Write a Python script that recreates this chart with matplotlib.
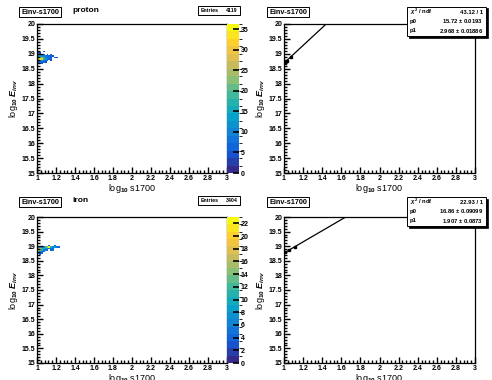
import matplotlib
matplotlib.use("Agg")
import matplotlib.pyplot as plt
import numpy as np
from matplotlib.colors import LinearSegmentedColormap, BoundaryNorm
from matplotlib.patches import Rectangle
from matplotlib.ticker import MultipleLocator

plt.rcParams['font.family'] = ['Liberation Sans', 'DejaVu Sans']
plt.rcParams['font.weight'] = 'bold'
plt.rcParams['mathtext.fontset'] = 'custom'
plt.rcParams['mathtext.rm'] = 'Liberation Sans:bold'
plt.rcParams['mathtext.it'] = 'Liberation Sans:bold:italic'
plt.rcParams['mathtext.bf'] = 'Liberation Sans:bold'

W, H = 492, 380

# ---- data ----
x_edges_range = (1.0, 3.0)
y_edges_range = (15.0, 20.0)
n_bins = 100

proton_x = [1.07,
            1.01, 1.03,
            1.01, 1.03, 1.05, 1.07, 1.11, 1.15,
            1.01, 1.03, 1.05, 1.07, 1.09, 1.11, 1.13, 1.15, 1.17,
            1.01, 1.03, 1.05, 1.07, 1.09, 1.11, 1.13, 1.15, 1.19, 1.21,
            1.01, 1.03, 1.05, 1.07, 1.09, 1.11, 1.13, 1.15,
            1.01, 1.03, 1.05, 1.07, 1.09, 1.11, 1.15,
            1.01, 1.03, 1.05, 1.07, 1.09,
            1.03, 1.05]
proton_y = [19.075,
            19.025, 19.025,
            18.975, 18.975, 18.975, 18.975, 18.975, 18.975,
            18.925, 18.925, 18.925, 18.925, 18.925, 18.925, 18.925, 18.925, 18.925,
            18.875, 18.875, 18.875, 18.875, 18.875, 18.875, 18.875, 18.875, 18.875, 18.875,
            18.825, 18.825, 18.825, 18.825, 18.825, 18.825, 18.825, 18.825,
            18.775, 18.775, 18.775, 18.775, 18.775, 18.775, 18.775,
            18.725, 18.725, 18.725, 18.725, 18.725,
            18.675, 18.675]
proton_n = [5,
            6, 5,
            9, 8, 7, 6, 5, 6,
            12, 15, 12, 10, 9, 8, 7, 6, 5,
            20, 28, 22, 15, 10, 9, 8, 6, 6, 5,
            25, 36, 30, 18, 12, 8, 7, 6,
            15, 20, 12, 9, 7, 6, 5,
            9, 8, 7, 6, 5,
            6, 5]

iron_x = [1.13, 1.19,
          1.01, 1.03, 1.05, 1.07, 1.09, 1.11, 1.13, 1.15, 1.17, 1.19, 1.21, 1.23,
          1.01, 1.03, 1.05, 1.07, 1.09, 1.11, 1.13, 1.15, 1.17,
          1.01, 1.03, 1.05, 1.07, 1.09, 1.11, 1.15, 1.17,
          1.01, 1.03, 1.05, 1.07,
          1.01, 1.03, 1.05,
          1.03]
iron_y = [19.025, 19.025,
          18.975, 18.975, 18.975, 18.975, 18.975, 18.975, 18.975, 18.975, 18.975, 18.975, 18.975, 18.975,
          18.925, 18.925, 18.925, 18.925, 18.925, 18.925, 18.925, 18.925, 18.925,
          18.875, 18.875, 18.875, 18.875, 18.875, 18.875, 18.875, 18.875,
          18.825, 18.825, 18.825, 18.825,
          18.775, 18.775, 18.775,
          18.725]
iron_n = [4, 5,
          8, 10, 8, 6, 12, 15, 22, 10, 6, 8, 5, 4,
          15, 18, 12, 10, 8, 6, 5, 5, 4,
          23, 16, 10, 6, 5, 4, 4, 5,
          12, 8, 5, 4,
          6, 5, 4,
          4]

proton_zmax = 36.3
iron_zmax = 23.0
proton_cticks = [0, 5, 10, 15, 20, 25, 30, 35]
iron_cticks = [0, 2, 4, 6, 8, 10, 12, 14, 16, 18, 20, 22]

# profile points and fit results
proton_px = [1.01, 1.03, 1.07]
proton_py = [18.70, 18.77, 18.90]
iron_px = [1.01, 1.05, 1.11]
iron_py = [18.80, 18.86, 18.98]
proton_fit = (15.72, 2.968)
iron_fit = (16.86, 1.907)
proton_stats = [("$\\chi^2$ / ndf", "43.12 / 1"), ("p0", "15.72 $\\pm$ 0.0193"), ("p1", "2.968 $\\pm$ 0.01886")]
iron_stats = [("$\\chi^2$ / ndf", "22.93 / 1"), ("p0", "16.86 $\\pm$ 0.09099"), ("p1", "1.907 $\\pm$ 0.0873")]
entries = ["4119", "3404"]
titles = ["proton", "iron"]

# ROOT kBird palette
stops = [0.0, 0.125, 0.25, 0.375, 0.5, 0.625, 0.75, 0.875, 1.0]
red = [0.2082, 0.0592, 0.0780, 0.0232, 0.1802, 0.5301, 0.8186, 0.9956, 0.9764]
green = [0.1664, 0.3599, 0.5041, 0.6419, 0.7178, 0.7492, 0.7328, 0.7862, 0.9832]
blue = [0.5293, 0.8684, 0.8385, 0.7914, 0.6425, 0.4662, 0.3499, 0.1968, 0.0539]
bird = LinearSegmentedColormap.from_list(
    "bird", [(s, (r, g, b)) for s, r, g, b in zip(stops, red, green, blue)])


def fig_box(x0, y0, x1, y1):
    """pixel box (top-left origin) -> figure fraction rect"""
    return [x0 / W, 1 - y1 / H, (x1 - x0) / W, (y1 - y0) / H]


def fx(x):
    return x / W


def fy(y):
    return 1 - y / H


def style_axes(ax):
    ax.set_xlim(*x_edges_range)
    ax.set_ylim(*y_edges_range)
    ax.xaxis.set_major_locator(MultipleLocator(0.2))
    ax.xaxis.set_minor_locator(MultipleLocator(0.04))
    ax.yaxis.set_major_locator(MultipleLocator(0.5))
    ax.yaxis.set_minor_locator(MultipleLocator(0.1))
    ax.tick_params(which='both', direction='in', top=False, right=False,
                   labelsize=5, width=1.0, color='black', pad=1.2)
    ax.tick_params(which='major', length=4.5)
    ax.tick_params(which='minor', length=2.5)
    ax.xaxis.set_major_formatter(plt.FuncFormatter(lambda v, p: f"{v:g}"))
    ax.yaxis.set_major_formatter(plt.FuncFormatter(lambda v, p: f"{v:g}"))
    for sp in ax.spines.values():
        sp.set_linewidth(0.9)
    ax.set_xlabel("log$_{10}$ s1700", fontsize=6.5, labelpad=0)
    ax.set_ylabel("log$_{10}$ $\\mathit{E}_{inv}$", fontsize=6.5, labelpad=1)


def name_box(x0, y0):
    fig.text(fx(x0 + 25), fy(y0 + 4), "Einv-s1700", fontsize=5.2, ha='center', va='center',
             bbox=dict(boxstyle='square,pad=0.25', fc='white', ec='black', lw=0.7))


fig = plt.figure(figsize=(W / 100, H / 100), dpi=100)

panels = [
    (proton_x, proton_y, proton_n, proton_zmax, proton_cticks, proton_px, proton_py,
     proton_fit, proton_stats, 24, 173, 0),
    (iron_x, iron_y, iron_n, iron_zmax, iron_cticks, iron_px, iron_py,
     iron_fit, iron_stats, 217, 363, 190),
]

xedges = np.linspace(*x_edges_range, n_bins + 1)
yedges = np.linspace(*y_edges_range, n_bins + 1)

for i, (hx, hy, hn, zmax, cticks, px, py, fit, stats, top, bot, off) in enumerate(panels):
    # left: 2D histogram (COLZ)
    ax = fig.add_axes(fig_box(37, top, 227, bot))
    h, _, _ = np.histogram2d(hx, hy, bins=[xedges, yedges], weights=hn)
    h = np.ma.masked_where(h <= 0, h)
    levels = np.linspace(0, zmax, 21)
    norm = BoundaryNorm(levels, 256)
    mesh = ax.pcolormesh(xedges, yedges, h.T, cmap=bird, norm=norm)
    style_axes(ax)

    cax = fig.add_axes(fig_box(227, top, 239, bot))
    cb = fig.colorbar(mesh, cax=cax, ticks=cticks)
    cb.outline.set_visible(False)
    cax.tick_params(direction='in', length=4, width=1.2, labelsize=5, pad=1.2)
    cax.set_yticklabels([str(t) for t in cticks])

    name_box(15, off + 8)
    fig.text(fx(72), fy(off + 10), titles[i], fontsize=6, ha='left', va='center')
    # Entries box
    fig.patches.append(Rectangle((fx(198), fy(off + 15)), fx(42), 9 / H,
                                 transform=fig.transFigure, fc='white', ec='black', lw=0.7))
    fig.text(fx(201), fy(off + 10.5), "Entries", fontsize=3.8, ha='left', va='center')
    fig.text(fx(238), fy(off + 10.5), entries[i], fontsize=3.8, ha='right', va='center')

    # right: profile + fit
    ax2 = fig.add_axes(fig_box(284, top, 475, bot))
    xf = np.linspace(x_edges_range[0], x_edges_range[1], 400)
    ax2.plot(xf, fit[0] + fit[1] * xf, color='black', lw=0.9)
    ax2.errorbar(px, py, yerr=0.01, fmt='s', ms=1.6, color='black', lw=0.6)
    style_axes(ax2)

    name_box(263, off + 8)
    # stats box with shadow
    sx0, sy0, sx1, sy1 = 407, off + 7, 486, off + 36
    fig.patches.append(Rectangle((fx(sx0 + 1.5), fy(sy1 + 1.5)), fx(sx1 - sx0), (sy1 - sy0) / H,
                                 transform=fig.transFigure, fc='black', ec='black', lw=0.5, zorder=5))
    fig.patches.append(Rectangle((fx(sx0), fy(sy1)), fx(sx1 - sx0), (sy1 - sy0) / H,
                                 transform=fig.transFigure, fc='white', ec='black', lw=0.7, zorder=6))
    for j, (lab, val) in enumerate(stats):
        yy = sy0 + 5 + j * 9.3
        fig.text(fx(sx0 + 3), fy(yy), lab, fontsize=4.2, ha='left', va='center', zorder=7)
        fig.text(fx(sx1 - 3), fy(yy), val, fontsize=4.2, ha='right', va='center', zorder=7)

fig.savefig("out.png", dpi=100)
